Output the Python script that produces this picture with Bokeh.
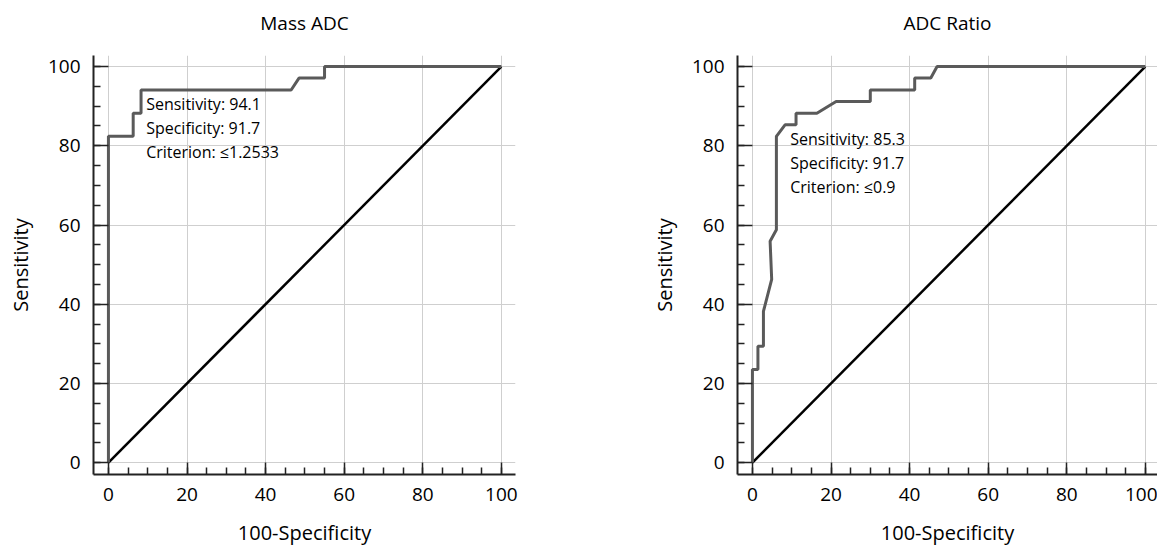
from bokeh.plotting import figure
from bokeh.layouts import row
from bokeh.models import Range1d, SingleIntervalTicker, Title
from bokeh.core.properties import value
from bokeh.embed import file_html
from bokeh.resources import INLINE

# ---- data ----
mass_fpr = [0, 0, 6.3, 6.3, 8.3, 8.3, 46.5, 48.5, 55.0, 55.0, 100]
mass_tpr = [0, 82.4, 82.4, 88.2, 88.2, 94.1, 94.1, 97.1, 97.1, 100, 100]
mass_text = ["Sensitivity: 94.1", "Specificity: 91.7", "Criterion: \u22641.2533"]
mass_op = (8.3, 94.1)

ratio_fpr = [0, 0, 1.4, 1.4, 2.8, 2.8, 4.9, 4.5, 6.1, 6.1, 8.3, 11.1, 11.1,
             16.4, 21.3, 30.0, 30.0, 41.3, 41.3, 45.4, 47.0, 100]
ratio_tpr = [0, 23.5, 23.5, 29.4, 29.4, 38.2, 46.3, 55.9, 58.8, 82.4, 85.3,
             85.3, 88.2, 88.2, 91.2, 91.2, 94.1, 94.1, 97.1, 97.1, 100, 100]
ratio_text = ["Sensitivity: 85.3", "Specificity: 91.7", "Criterion: \u22640.9"]
ratio_op = (8.3, 85.3)

ref_x = [0, 100]
ref_y = [0, 100]

FONT = "Open Sans"
AX = "#222222"


def make(title, fx, ty, op, lines, x_end, fw, mbr):
    p = figure(frame_width=fw, frame_height=419,
               x_range=Range1d(-3.8, x_end), y_range=Range1d(-3.0, 102.8),
               output_backend="svg", toolbar_location=None,
               min_border_left=93, min_border_right=mbr,
               min_border_top=55, min_border_bottom=73)
    p.outline_line_color = None
    p.title.text = title
    p.title.align = "center"
    p.title.text_font = FONT
    p.title.text_font_size = "19px"
    p.title.text_font_style = "normal"
    p.title.text_color = "black"
    p.title.standoff = 0
    # thin spacer between the frame and the title
    p.add_layout(Title(text=" ", text_font_size="1px", standoff=17), "above")

    for ax, lab in ((p.xaxis[0], "100-Specificity"), (p.yaxis[0], "Sensitivity")):
        ax.ticker = SingleIntervalTicker(interval=20, num_minor_ticks=4)
        ax.axis_label = lab
        ax.axis_label_text_font = FONT
        ax.axis_label_text_font_size = "20px"
        ax.axis_label_text_font_style = "normal"
        ax.axis_label_text_color = "black"
        ax.major_label_text_font = FONT
        ax.major_label_text_font_size = "19px"
        ax.major_label_text_color = "black"
        ax.axis_line_color = AX
        ax.axis_line_width = 2
        ax.major_tick_line_color = AX
        ax.major_tick_line_width = 1.5
        ax.minor_tick_line_color = AX
        ax.minor_tick_line_width = 1.5
        ax.major_tick_out = 0
        ax.minor_tick_out = 0
        ax.minor_tick_in = 7
        ax.major_label_standoff = 13
    p.xaxis[0].major_tick_in = 12
    p.yaxis[0].major_tick_in = 15
    p.xaxis[0].axis_label_standoff = 15
    p.yaxis[0].axis_label_standoff = 11

    p.grid.grid_line_color = "#cfcfcf"
    p.grid.grid_line_width = 1

    p.line(ref_x, ref_y, line_color="black", line_width=2.5)
    p.line(fx, ty, line_color="#5a5a5a", line_width=3)

    n = len(lines)
    tx = [op[0] + 1.3] * n
    ty_ = [op[1] - 3.5 - 6.05 * i for i in range(n)]
    p.text(tx, ty_, text=lines, text_font=value(FONT), text_font_size="16px",
           text_baseline="middle", text_align="left", text_color="black")
    return p


p1 = make("Mass ADC", mass_fpr, mass_tpr, mass_op, mass_text, 103.6, 422, 129)
p2 = make("ADC Ratio", ratio_fpr, ratio_tpr, ratio_op, ratio_text, 103.1, 420, 0)

layout = row(p1, p2)
open("out.html", "w").write(file_html(layout, INLINE))
